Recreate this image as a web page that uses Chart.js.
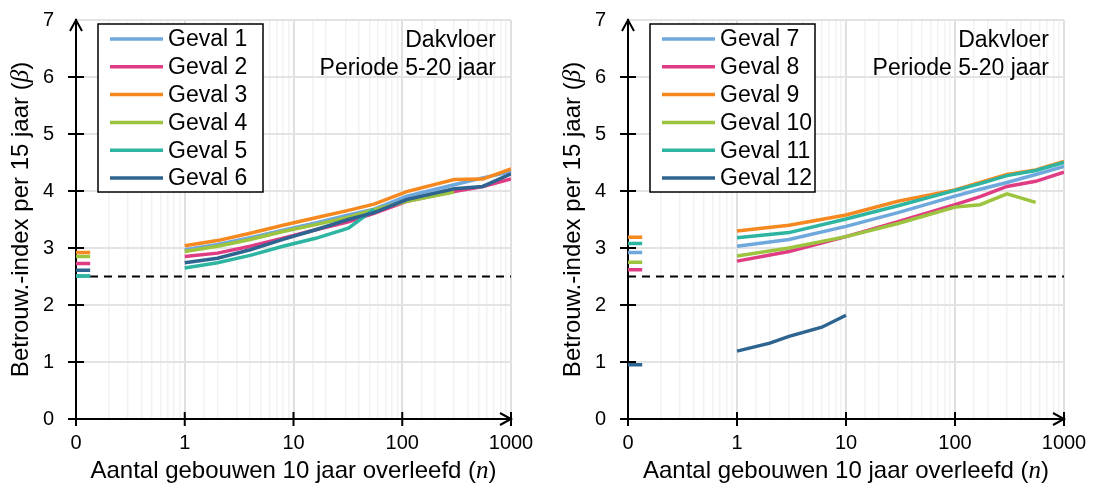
<!DOCTYPE html>
<html>
<head>
<meta charset="utf-8">
<script src="https://cdn.jsdelivr.net/npm/chart.js@4"></script>
<style>
  body { margin: 0; background: #fff; }
  #wrap { position: relative; width: 1099px; height: 490px; }
  canvas { position: absolute; top: 0; }
</style>
</head>
<body>
<div id="wrap">
  <canvas id="left" width="549" height="490" style="left:0"></canvas>
  <canvas id="right" width="550" height="490" style="left:549px"></canvas>
</div>
<script>
// x positions (n) of the curve vertices, log axis; "0" is drawn at n = 0.1
const nLeft = [1, 2, 4, 8, 16, 32, 55, 110, 300, 550, 1000];
const geval1 = [2.97, 3.06, 3.18, 3.31, 3.44, 3.58, 3.68, 3.91, 4.11, 4.23, 4.34];
const geval2 = [2.85, 2.91, 3.03, 3.17, 3.32, 3.46, 3.61, 3.82, 3.99, 4.08, 4.21];
const geval3 = [3.04, 3.13, 3.26, 3.40, 3.53, 3.66, 3.77, 3.99, 4.20, 4.21, 4.39];
const geval4 = [2.94, 3.03, 3.15, 3.29, 3.41, 3.54, 3.67, 3.82, 3.98, null, null];
const geval5 = [2.65, 2.74, 2.87, 3.03, 3.17, 3.35, 3.68, null, null, null, null];
const geval6 = [2.74, 2.82, 2.97, 3.15, 3.32, 3.50, 3.62, 3.85, 4.04, 4.08, 4.30];

const nRight = [1, 3, 10, 30, 100, 170, 300, 550, 1000];
const geval7 = [3.03, 3.15, 3.38, 3.62, 3.91, 4.03, 4.15, 4.29, 4.43];
const geval8 = [2.77, 2.94, 3.20, 3.46, 3.76, 3.90, 4.08, 4.17, 4.33];
const geval9 = [3.30, 3.40, 3.58, 3.82, 4.02, 4.15, 4.29, 4.37, 4.52];
const geval10 = [2.86, 3.00, 3.20, 3.43, 3.72, 3.76, 3.95, 3.80, null];
const geval11 = [3.18, 3.27, 3.51, 3.74, 4.01, 4.13, 4.27, 4.36, 4.50];
const nGeval12 = [1, 2, 3, 6, 10];
const geval12 = [1.19, 1.33, 1.45, 1.61, 1.82];

// value at n = 0 (short stub at the left of each panel)
const zeroLeft = [2.51, 2.73, 2.92, 2.85, 2.51, 2.61];
const zeroRight = [2.92, 2.62, 3.19, 2.75, 3.08, 0.95];
const zeroStub = [0.1, 0.135];

const limitLine = 2.5;
const xTicks = [0.1, 1, 10, 100, 1000];
const yTicks = [0, 1, 2, 3, 4, 5, 6];
const notes = ['Dakvloer', 'Periode 5-20 jaar'];

const colors = ['#6fa8dc', '#e03c84', '#f5891f', '#9cc43e', '#2db5a2', '#2e6490'];
const sans = '"Liberation Sans", Arial, sans-serif';

function series(label, color, zero, xs, ys, i) {
  const pts = zeroStub.map(x => ({ x: x, y: zero }));
  pts.push({ x: 0.5, y: null });
  xs.forEach((x, k) => pts.push({ x: x, y: ys[k] }));
  return {
    label: label, data: pts, borderColor: color, backgroundColor: color,
    borderWidth: 3.5, pointRadius: 0, tension: 0, borderCapStyle: 'butt',
    order: 10 - i
  };
}

function dashed() {
  return {
    label: 'limit', noLegend: true,
    data: [{ x: 0.1, y: limitLine }, { x: 1000, y: limitLine }],
    borderColor: '#000', borderWidth: 2, borderDash: [8, 6], pointRadius: 0, order: 20
  };
}

function isMajor(v) {
  const l = Math.log10(v);
  return Math.abs(l - Math.round(l)) < 1e-6;
}

function drawText(ctx, parts, cx, cy) {
  let w = 0;
  parts.forEach(p => { ctx.font = p.f; w += ctx.measureText(p.t).width; });
  let x = cx - w / 2;
  ctx.textAlign = 'left';
  ctx.textBaseline = 'middle';
  parts.forEach(p => { ctx.font = p.f; ctx.fillText(p.t, x, cy); x += ctx.measureText(p.t).width; });
}

const decor = {
  id: 'decor',
  afterDraw(chart) {
    const { ctx, chartArea: a, scales: { x, y } } = chart;
    ctx.save();
    ctx.strokeStyle = '#000';
    ctx.lineWidth = 2;
    ctx.beginPath();
    yTicks.forEach(v => {
      const py = y.getPixelForValue(v);
      ctx.moveTo(a.left - 8, py); ctx.lineTo(a.left + 8, py);
    });
    xTicks.forEach(v => {
      const px = x.getPixelForValue(v);
      ctx.moveTo(px, a.bottom - 7); ctx.lineTo(px, a.bottom + 7);
    });
    ctx.moveTo(a.left - 6, a.top + 11); ctx.lineTo(a.left, a.top); ctx.lineTo(a.left + 6, a.top + 11);
    ctx.moveTo(a.right - 11, a.bottom - 6); ctx.lineTo(a.right, a.bottom); ctx.lineTo(a.right - 11, a.bottom + 6);
    ctx.stroke();

    ctx.fillStyle = '#000';
    // axis titles
    const f = '24px ' + sans, fi = 'italic 25px "Liberation Serif", serif';
    drawText(ctx, [{ t: 'Aantal gebouwen 10 jaar overleefd (', f: f }, { t: 'n', f: fi }, { t: ')', f: f }],
      (a.left + a.right) / 2, 471);
    ctx.save();
    ctx.translate(a.left - 55, (a.top + a.bottom) / 2);
    ctx.rotate(-Math.PI / 2);
    drawText(ctx, [{ t: 'Betrouw.-index per 15 jaar (', f: f }, { t: 'β', f: fi }, { t: ')', f: f }], 0, 0);
    ctx.restore();

    // notes
    ctx.font = '23px ' + sans;
    ctx.textAlign = 'right';
    ctx.textBaseline = 'middle';
    notes.forEach((t, i) => ctx.fillText(t, a.right - 15, a.top + 21 + i * 28));

    // legend
    const items = chart.data.datasets.filter(d => !d.noLegend);
    const bx = a.left + 22, by = a.top + 4, bw = 165, bh = 168;
    ctx.fillStyle = '#fff';
    ctx.fillRect(bx, by, bw, bh);
    ctx.lineWidth = 1.5;
    ctx.strokeRect(bx, by, bw, bh);
    ctx.font = '23px ' + sans;
    ctx.textAlign = 'left';
    items.forEach((d, i) => {
      const ry = by + 15 + i * 27.8;
      ctx.strokeStyle = d.borderColor;
      ctx.lineWidth = 3.5;
      ctx.beginPath();
      ctx.moveTo(bx + 12, ry); ctx.lineTo(bx + 65, ry);
      ctx.stroke();
      ctx.fillStyle = '#000';
      ctx.fillText(d.label, bx + 70, ry + 1);
    });
    ctx.restore();
  }
};

function options(yWidth, padRight) {
  return {
    responsive: false,
    animation: false,
    layout: { padding: { top: 20, right: padRight, left: 0, bottom: 0 } },
    plugins: { legend: { display: false }, tooltip: { enabled: false } },
    scales: {
      x: {
        type: 'logarithmic', min: 0.1, max: 1000,
        afterFit: s => { s.height = 71; s.paddingLeft = 0; s.paddingRight = 0; },
        border: { color: '#000', width: 2 },
        grid: {
          drawTicks: false,
          color: c => isMajor(c.tick.value) ? '#e0e0e0' : '#f2f2f2',
          lineWidth: c => isMajor(c.tick.value) ? 2 : 1.5
        },
        ticks: {
          autoSkip: false, maxRotation: 0, padding: 12, color: '#000',
          font: { family: sans, size: 20 },
          callback: v => Math.abs(v - 0.1) < 1e-9 ? '0' : (isMajor(v) ? String(Math.round(v)) : '')
        }
      },
      y: {
        min: 0, max: 7,
        afterFit: s => { s.width = yWidth; s.paddingTop = 0; s.paddingBottom = 0; },
        border: { color: '#000', width: 2 },
        grid: { drawTicks: false, color: '#e3e3e3', lineWidth: 2 },
        ticks: { stepSize: 1, padding: 22, color: '#000', font: { family: sans, size: 20 } }
      }
    }
  };
}

new Chart(document.getElementById('left'), {
  type: 'line',
  data: {
    datasets: [
      series('Geval 1', colors[0], zeroLeft[0], nLeft, geval1, 0),
      series('Geval 2', colors[1], zeroLeft[1], nLeft, geval2, 1),
      series('Geval 3', colors[2], zeroLeft[2], nLeft, geval3, 2),
      series('Geval 4', colors[3], zeroLeft[3], nLeft, geval4, 3),
      series('Geval 5', colors[4], zeroLeft[4], nLeft, geval5, 4),
      series('Geval 6', colors[5], zeroLeft[5], nLeft, geval6, 5),
      dashed()
    ]
  },
  options: options(76, 38),
  plugins: [decor]
});

new Chart(document.getElementById('right'), {
  type: 'line',
  data: {
    datasets: [
      series('Geval 7', colors[0], zeroRight[0], nRight, geval7, 0),
      series('Geval 8', colors[1], zeroRight[1], nRight, geval8, 1),
      series('Geval 9', colors[2], zeroRight[2], nRight, geval9, 2),
      series('Geval 10', colors[3], zeroRight[3], nRight, geval10, 3),
      series('Geval 11', colors[4], zeroRight[4], nRight, geval11, 4),
      series('Geval 12', colors[5], zeroRight[5], nGeval12, geval12, 5),
      dashed()
    ]
  },
  options: options(79, 35),
  plugins: [decor]
});
</script>
</body>
</html>
